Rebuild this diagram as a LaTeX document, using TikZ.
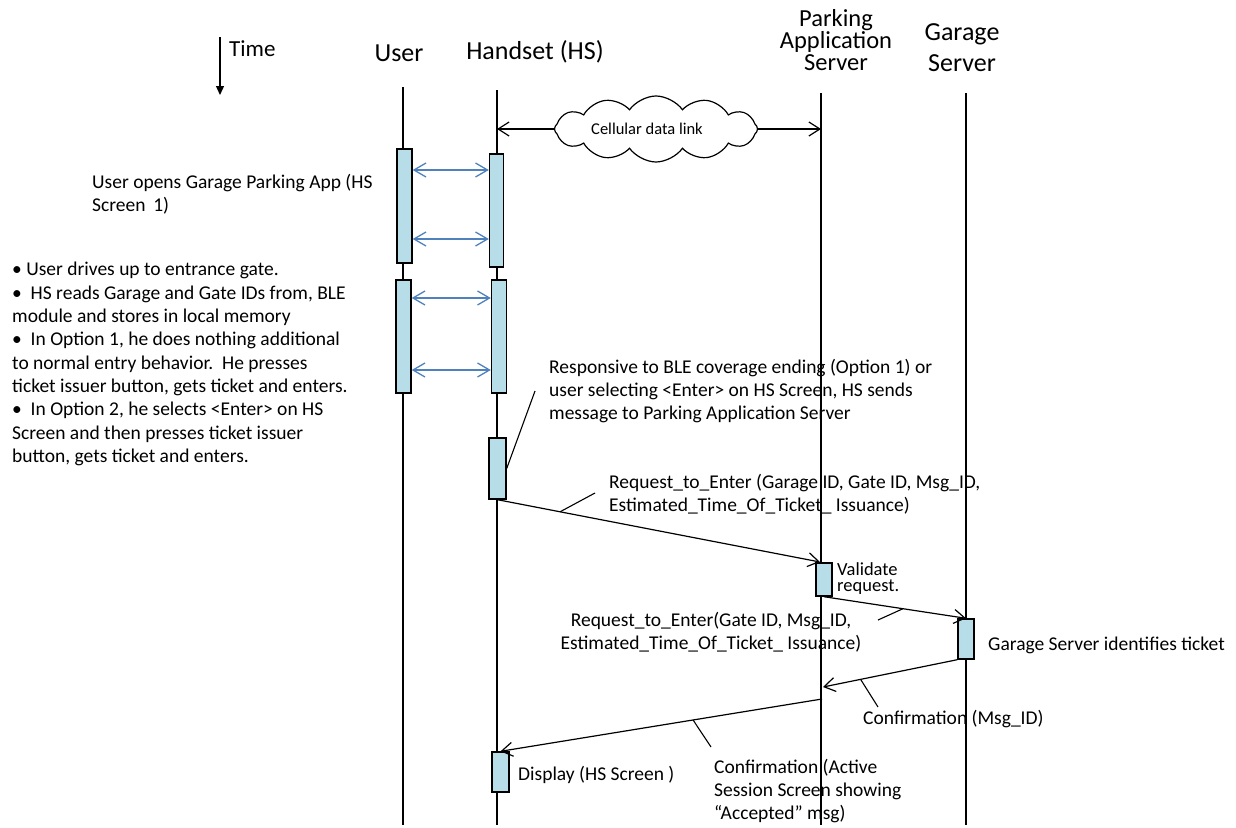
\documentclass[tikz,border=0pt]{standalone}
\usepackage{fontspec}
\setmainfont{Carlito}
\usetikzlibrary{arrows.meta,shapes.symbols}
\definecolor{actfill}{RGB}{183,221,232}
\definecolor{bleblue}{RGB}{79,129,189}
\tikzset{
  lifeline/.style={line width=1.2pt},
  actbox/.style={draw, line width=1.4pt, fill=actfill, minimum width=15pt, inner sep=0pt},
  msg/.style={line width=1.2pt, -{Straight Barb[length=11pt,width=14pt,line width=1.2pt]}},
  blemsg/.style={line width=1.3pt, draw=bleblue, {Straight Barb[length=12pt,width=14pt,line width=1.3pt]}-{Straight Barb[length=12pt,width=14pt,line width=1.3pt]}},
  calltick/.style={line width=1.1pt},
  body/.style={font=\fontsize{19.5}{23.3}\selectfont, inner sep=0pt, align=left},
  head/.style={inner sep=0pt, align=center},
}
\begin{document}
\begin{tikzpicture}[x=1pt,y=-1pt]
\useasboundingbox (0,0) rectangle (1236,827);

% headers
\node[inner sep=0pt, anchor=west, font=\fontsize{23}{24}\selectfont] (timelbl) at (229,49) {Time};
\coordinate (t0) at (220,37);
\coordinate (t1) at (220,95);
\draw[line width=1.3pt, -{Triangle[length=9pt,width=8pt]}] (t0) -- (t1);
\node[head, font=\fontsize{26}{26}\selectfont] (huser) at (399,53) {User};
\node[head, font=\fontsize{26}{26}\selectfont] (hhs) at (535,52) {Handset (HS)};
\node[head, font=\fontsize{24.5}{22}\selectfont] (hpas) at (836,40) {Parking\\Application\\Server};
\node[head, font=\fontsize{26}{31}\selectfont] (hgs) at (962,48) {Garage\\Server};

% lifelines
\coordinate (uTop) at (403,87);  \coordinate (uBot) at (403,825);
\coordinate (hTop) at (497,90);  \coordinate (hBot) at (497,825);
\coordinate (pTop) at (821,93);  \coordinate (pBot) at (821,825);
\coordinate (gTop) at (966,93);  \coordinate (gBot) at (966,825);
\draw[lifeline] (uTop) -- (uBot);
\draw[lifeline] (hTop) -- (hBot);
\draw[lifeline] (pTop) -- (pBot);
\draw[lifeline] (gTop) -- (gBot);

% activation boxes
\node[actbox, minimum height=114pt] (ub1) at (404.5,206) {};
\node[actbox, minimum height=113pt] (ub2) at (403.5,336.5) {};
\node[actbox, minimum width=14pt, minimum height=113pt] (hb1) at (496.5,210.5) {};
\node[actbox, minimum height=113pt] (hb2) at (499,336.5) {};
\node[actbox, minimum width=17pt, minimum height=61pt] (hb3) at (497.5,468.5) {};
\node[actbox, minimum width=16pt, minimum height=33pt] (pb) at (824,579.5) {};
\node[actbox, minimum width=16pt, minimum height=40pt] (gb) at (966,639) {};
\node[actbox, minimum width=17pt, minimum height=40pt] (hb4) at (500.5,772) {};

% BLE arrows
\draw[blemsg] (ub1.east |- 0,170) -- (hb1.west |- 0,170);
\draw[blemsg] (ub1.east |- 0,239) -- (hb1.west |- 0,239);
\draw[blemsg] (ub2.east |- 0,298) -- (hb2.west |- 0,298);
\draw[blemsg] (ub2.east |- 0,370) -- (hb2.west |- 0,370);

% cellular link
\node[cloud, draw, line width=1.2pt, cloud puffs=12, cloud puff arc=110, cloud ignores aspect,
      minimum width=203pt, minimum height=66pt, inner sep=0pt,
      font=\fontsize{16.5}{18}\selectfont] (cloud) at (656,129) {Cellular data link\hspace*{18pt}};
\draw[msg] (cloud.west) -- (cloud.west -| hTop);
\draw[msg] (cloud.east) -- (cloud.east -| pTop);

% messages
\coordinate (pIn) at (820,562);
\coordinate (pRet) at (823,687);
\coordinate (pOut) at (822,699);
\draw[msg] (hb3.south) -- (pIn) coordinate[pos=0.194] (k1);
\draw[msg] (pb.south) -- (gb.north) coordinate[pos=0.556] (k2);
\draw[msg] (gb.south west) -- (pRet) coordinate[pos=0.72] (k3);
\draw[msg] (pOut) -- (hb4.north) coordinate[pos=0.401] (k4);

% callout ticks
\coordinate (k1e) at (595,493);
\coordinate (k2e) at (878,620);
\coordinate (k3e) at (878,707);
\coordinate (k4e) at (711,747);
\coordinate (k5e) at (535,391);
\draw[calltick] (k1) -- (k1e);
\draw[calltick] (k2) -- (k2e);
\draw[calltick] (k3) -- (k3e);
\draw[calltick] (k4) -- (k4e);
\draw[calltick] (hb3.east) -- (k5e);

% texts
\node[body, anchor=west] (open) at (92,194) {User opens Garage Parking App (HS\\Screen\, 1)};
\node[body, anchor=west] (bullets) at (12,364) {\textbullet\ User drives up to entrance gate.\\
\textbullet\ \ HS reads Garage and Gate IDs from, BLE\\
module and stores in local memory\\
\textbullet\ \ In Option 1, he does nothing additional\\
to normal entry behavior.\ \ He presses\\
ticket issuer button, gets ticket and enters.\\
\textbullet\ \ In Option 2, he selects <Enter> on HS\\
Screen and then presses ticket issuer\\
button, gets ticket and enters.};
\node[body, anchor=west] (resp) at (549,391) {Responsive to BLE coverage ending (Option 1) or\\
user selecting <Enter> on HS Screen, HS sends\\
message to Parking Application Server};
\node[body, anchor=west] (req1) at (609,494) {Request\_to\_Enter (Garage ID, Gate ID, Msg\_ID,\\
Estimated\_Time\_Of\_Ticket\_ Issuance)};
\node[body, anchor=west, font=\fontsize{18.5}{16}\selectfont] (valid) at (837,579) {Validate\\request.};
\node[body, align=center] (req2) at (711,632) {Request\_to\_Enter(Gate ID, Msg\_ID,\\
Estimated\_Time\_Of\_Ticket\_ Issuance)};
\node[body, anchor=west] (gsid) at (988,645) {Garage Server identifies ticket};
\node[body, anchor=west] (conf1) at (863,719) {Confirmation (Msg\_ID)};
\node[body, anchor=west] (conf2) at (714,791) {Confirmation (Active\\
Session Screen showing\\
“Accepted” msg)};
\node[body, anchor=west] (disp) at (518,775) {Display (HS Screen )};
\end{tikzpicture}
\end{document}
